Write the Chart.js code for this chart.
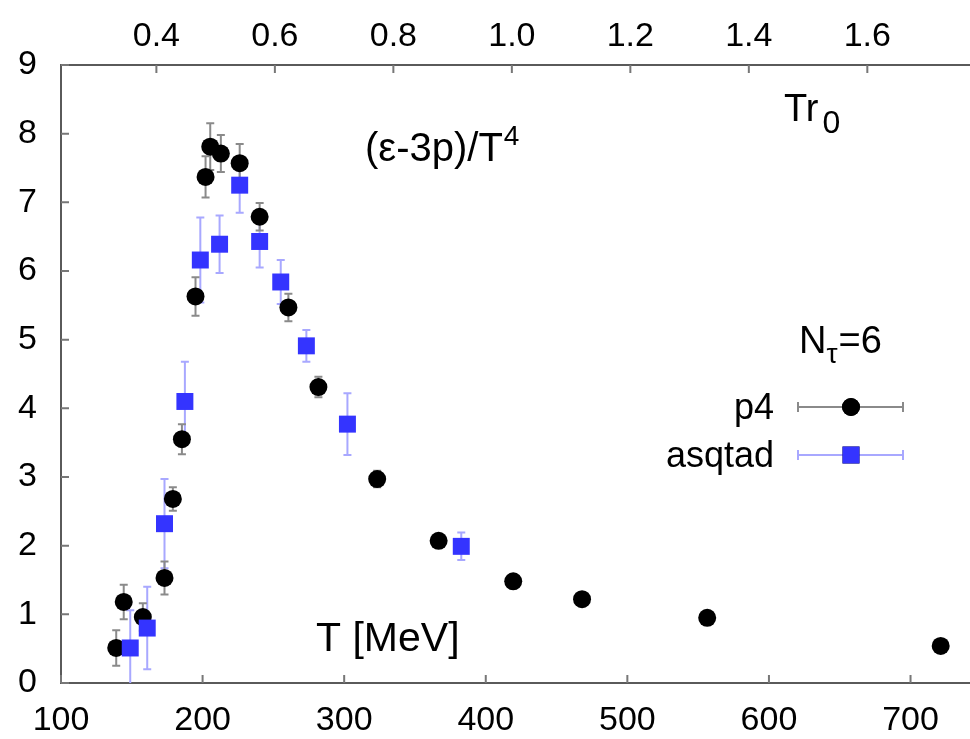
<!DOCTYPE html>
<html>
<head>
<meta charset="utf-8">
<script src="https://cdn.jsdelivr.net/npm/chart.js@4.4.0/dist/chart.umd.min.js"></script>
<style>
  html, body { margin: 0; padding: 0; background: #fff; }
</style>
</head>
<body>
<canvas id="eos" width="970" height="739"></canvas>
<script>
// trace anomaly (e-3p)/T^4 vs temperature, N_tau = 6
const p4T   = [139.0, 144.3, 157.8, 173.1, 179.0, 185.4, 195.0, 202.1, 205.4, 212.9, 226.2, 240.3, 260.6, 281.8, 323.3, 366.7, 419.4, 468.0, 556.4, 721.3];
const p4Val = [0.51, 1.18, 0.96, 1.53, 2.68, 3.55, 5.63, 7.37, 7.81, 7.71, 7.57, 6.79, 5.47, 4.31, 2.97, 2.07, 1.48, 1.22, 0.95, 0.54];
const p4Err = [0.26, 0.25, 0.2, 0.24, 0.17, 0.22, 0.28, 0.3, 0.34, 0.27, 0.28, 0.2, 0.2, 0.15, 0.12, 0.07, 0.05, 0.05, 0.05, 0.05];

const asqT   = [148.9, 160.9, 173.1, 187.5, 198.4, 212.0, 226.2, 240.3, 255.2, 273.3, 302.3, 382.7];
const asqVal = [0.51, 0.80, 2.32, 4.10, 6.16, 6.39, 7.25, 6.43, 5.84, 4.91, 3.77, 1.99];
const asqErr = [0.55, 0.6, 0.65, 0.58, 0.62, 0.42, 0.4, 0.38, 0.32, 0.23, 0.45, 0.2];

const tTicks  = [100, 200, 300, 400, 500, 600, 700];
const trTicks = [0.4, 0.6, 0.8, 1.0, 1.2, 1.4, 1.6];
const yTicks  = [0, 1, 2, 3, 4, 5, 6, 7, 8, 9];

const tMin = 100, tMax = 742;
const r0 = 0.4716, hbarc = 197.33;   // fm, MeV fm
const trOf = t => t * r0 / hbarc;

const FONT = '"Liberation Sans", Arial, Helvetica, sans-serif';
const P4_ERR = '#8a8a8a';
const ASQ_ERR = '#a8a8ff';
const ASQ_BLUE = '#3434ff';

const pts = (xs, ys) => xs.map((x, i) => ({ x: x, y: ys[i] }));

// vertical error bars under the markers
const errorBars = {
  id: 'errorBars',
  beforeDatasetsDraw(chart) {
    const { ctx, chartArea: a, scales: { x, y } } = chart;
    ctx.save();
    ctx.beginPath();
    ctx.rect(a.left, a.top, a.right - a.left, a.bottom - a.top);
    ctx.clip();
    chart.data.datasets.forEach(ds => {
      ctx.strokeStyle = ds.errColor;
      ctx.lineWidth = 2;
      ds.data.forEach((p, i) => {
        const px = x.getPixelForValue(p.x);
        const hi = y.getPixelForValue(p.y + ds.errors[i]);
        const lo = y.getPixelForValue(p.y - ds.errors[i]);
        ctx.beginPath();
        ctx.moveTo(px, hi); ctx.lineTo(px, lo);
        ctx.moveTo(px - 4, hi); ctx.lineTo(px + 4, hi);
        ctx.moveTo(px - 4, lo); ctx.lineTo(px + 4, lo);
        ctx.stroke();
      });
    });
    ctx.restore();
  }
};

// tick marks pointing into the frame
const innerTicks = {
  id: 'innerTicks',
  beforeDatasetsDraw(chart) {
    const { ctx, chartArea: a, scales } = chart;
    const len = 8;
    ctx.save();
    ctx.strokeStyle = '#777';
    ctx.lineWidth = 2;
    ctx.beginPath();
    scales.x.ticks.forEach(t => {
      const px = scales.x.getPixelForValue(t.value);
      ctx.moveTo(px, a.bottom); ctx.lineTo(px, a.bottom - len);
    });
    scales.x2.ticks.forEach(t => {
      const px = scales.x2.getPixelForValue(t.value);
      ctx.moveTo(px, a.top); ctx.lineTo(px, a.top + len);
    });
    scales.y.ticks.forEach(t => {
      const py = scales.y.getPixelForValue(t.value);
      ctx.moveTo(a.left, py); ctx.lineTo(a.left + len, py);
    });
    ctx.stroke();
    ctx.restore();
  }
};

// key, axis titles and panel labels
const labels = {
  id: 'labels',
  afterDraw(chart) {
    const ctx = chart.ctx;
    ctx.save();
    ctx.fillStyle = '#000';
    ctx.textBaseline = 'alphabetic';
    ctx.textAlign = 'left';

    // (e-3p)/T^4
    ctx.font = '40px ' + FONT;
    ctx.fillText('(\u03b5-3p)/T', 365, 161);
    let w = ctx.measureText('(\u03b5-3p)/T').width;
    ctx.font = '28px ' + FONT;
    ctx.fillText('4', 365 + w + 1, 145);

    // Tr_0
    ctx.font = '38px ' + FONT;
    ctx.fillText('Tr', 784, 121);
    w = ctx.measureText('Tr').width;
    ctx.font = '32px ' + FONT;
    ctx.fillText('0', 784 + w + 4, 133);

    // T [MeV]
    ctx.font = '41px ' + FONT;
    ctx.fillText('T [MeV]', 316, 651);

    // N_tau=6
    ctx.font = '38px ' + FONT;
    ctx.fillText('N', 799, 353);
    w = ctx.measureText('N').width;
    ctx.font = '28px ' + FONT;
    ctx.fillText('\u03c4', 799 + w, 363);
    const wt = ctx.measureText('\u03c4').width;
    ctx.font = '38px ' + FONT;
    ctx.fillText('=6', 799 + w + wt + 1, 353);

    // key entries
    ctx.textAlign = 'right';
    ctx.textBaseline = 'middle';
    const keys = [
      { name: 'p4', y: 407, err: P4_ERR, ds: 1 },
      { name: 'asqtad', y: 455, err: ASQ_ERR, ds: 0 }
    ];
    keys.forEach(k => {
      ctx.font = '36px ' + FONT;
      ctx.fillText(k.name, 774, k.y + 2);
      ctx.strokeStyle = k.err;
      ctx.lineWidth = 2;
      ctx.beginPath();
      ctx.moveTo(798, k.y); ctx.lineTo(903, k.y);
      ctx.moveTo(798, k.y - 5); ctx.lineTo(798, k.y + 5);
      ctx.moveTo(903, k.y - 5); ctx.lineTo(903, k.y + 5);
      ctx.stroke();
      const ds = chart.data.datasets[k.ds];
      Chart.helpers.drawPoint(ctx, {
        pointStyle: ds.pointStyle, radius: ds.pointRadius, rotation: 0, borderWidth: 0
      }, 851, k.y);
      ctx.fillStyle = ds.backgroundColor;
      ctx.fill();
      ctx.fillStyle = '#000';
    });
    ctx.restore();
  }
};

const tickFont = { family: FONT, size: 34 };

new Chart(document.getElementById('eos'), {
  type: 'scatter',
  data: {
    datasets: [
      {
        label: 'asqtad',
        data: pts(asqT, asqVal),
        errors: asqErr,
        errColor: ASQ_ERR,
        pointStyle: 'rect',
        pointRadius: 12,
        backgroundColor: ASQ_BLUE,
        borderWidth: 0,
        order: 0
      },
      {
        label: 'p4',
        data: pts(p4T, p4Val),
        errors: p4Err,
        errColor: P4_ERR,
        pointStyle: 'circle',
        pointRadius: 9,
        backgroundColor: '#000',
        borderWidth: 0,
        order: 1
      }
    ]
  },
  options: {
    responsive: false,
    animation: false,
    devicePixelRatio: 1,
    layout: { padding: 0, autoPadding: false },
    plugins: { legend: { display: false }, tooltip: { enabled: false } },
    scales: {
      x: {
        type: 'linear',
        position: 'bottom',
        min: tMin,
        max: tMax,
        grid: { display: false },
        border: { display: true, color: '#5a5a5a', width: 2 },
        ticks: { font: tickFont, color: '#000', padding: 9, maxRotation: 0 },
        afterBuildTicks: s => { s.ticks = tTicks.map(v => ({ value: v })); },
        afterFit: s => { s.height = 56; s.paddingLeft = 0; s.paddingRight = 0; }
      },
      x2: {
        type: 'linear',
        position: 'top',
        min: trOf(tMin),
        max: trOf(tMax),
        grid: { display: false },
        border: { display: true, color: '#5a5a5a', width: 2 },
        ticks: { font: tickFont, color: '#000', padding: 0, maxRotation: 0,
                 callback: v => v.toFixed(1) },
        afterBuildTicks: s => { s.ticks = trTicks.map(v => ({ value: v })); },
        afterFit: s => { s.height = 65; s.paddingLeft = 0; s.paddingRight = 0; }
      },
      y: {
        type: 'linear',
        min: 0,
        max: 9,
        grid: { display: false },
        border: { display: true, color: '#5a5a5a', width: 2 },
        ticks: { font: tickFont, color: '#000', padding: 16 },
        afterBuildTicks: s => { s.ticks = yTicks.map(v => ({ value: v })); },
        afterFit: s => { s.width = 61; s.paddingTop = 0; s.paddingBottom = 0; }
      }
    }
  },
  plugins: [errorBars, innerTicks, labels]
});
</script>
</body>
</html>
